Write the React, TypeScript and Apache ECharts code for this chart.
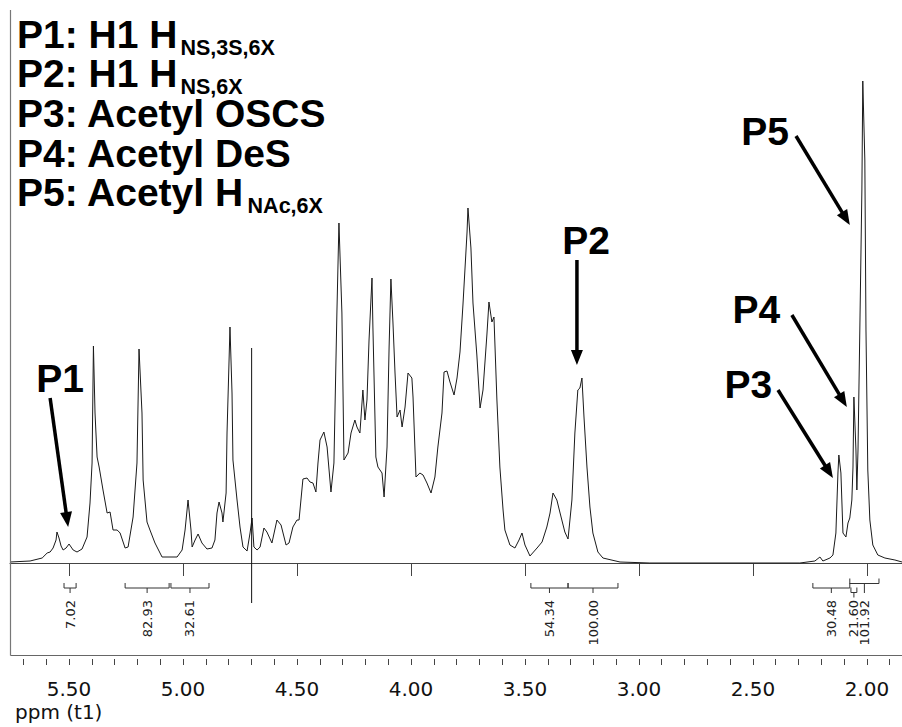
import React, { useEffect, useRef } from 'react';
import * as echarts from 'echarts';

// 1H NMR spectrum: [chemical shift (ppm), intensity (a.u.)]
const spectrumPoints: [number, number][] = [
  [5.759,1],[5.671,2],[5.618,5],[5.596,10],[5.583,11],[5.570,15],[5.557,23],[5.553,31],[5.544,25],[5.535,17],
  [5.526,13],[5.513,15],[5.500,19],[5.491,16],[5.482,13],[5.465,11],[5.443,14],[5.421,26],[5.408,60],[5.399,100],
  [5.393,217],[5.386,150],[5.377,106],[5.368,96],[5.351,73],[5.333,50],[5.320,51],[5.307,33],[5.289,33],[5.276,30],
  [5.254,15],[5.241,16],[5.219,46],[5.202,100],[5.193,214],[5.180,150],[5.175,83],[5.158,41],[5.145,33],[5.123,20],
  [5.092,6],[5.026,6],[5.004,13],[4.991,33],[4.978,63],[4.965,33],[4.960,16],[4.947,23],[4.934,29],[4.917,20],
  [4.895,14],[4.873,15],[4.860,23],[4.851,50],[4.842,61],[4.829,50],[4.825,41],[4.811,70],[4.807,130],[4.798,203],
  [4.794,236],[4.785,170],[4.781,103],[4.763,63],[4.750,36],[4.737,16],[4.719,12],[4.706,30],[4.697,45],[4.689,16],
  [4.675,13],[4.662,16],[4.645,35],[4.632,31],[4.610,20],[4.588,43],[4.570,38],[4.548,18],[4.535,20],[4.518,36],
  [4.500,43],[4.491,43],[4.474,84],[4.456,85],[4.443,81],[4.430,80],[4.417,71],[4.408,100],[4.399,123],[4.382,131],
  [4.368,116],[4.351,71],[4.338,100],[4.325,250],[4.316,340],[4.303,250],[4.294,103],[4.276,110],[4.263,130],[4.246,143],
  [4.237,136],[4.224,130],[4.211,173],[4.202,143],[4.193,163],[4.184,223],[4.171,285],[4.167,236],[4.154,106],[4.145,96],
  [4.127,90],[4.118,66],[4.105,116],[4.096,216],[4.088,284],[4.079,240],[4.070,190],[4.061,146],[4.048,153],[4.039,136],
  [4.026,156],[4.013,190],[3.996,185],[3.991,166],[3.978,86],[3.961,90],[3.947,88],[3.930,80],[3.912,70],[3.895,86],
  [3.882,116],[3.864,150],[3.855,191],[3.842,192],[3.829,181],[3.811,168],[3.798,185],[3.785,211],[3.772,258],[3.754,331],
  [3.750,355],[3.737,315],[3.728,260],[3.711,208],[3.697,155],[3.684,173],[3.667,228],[3.658,261],[3.645,241],[3.636,246],
  [3.623,163],[3.610,96],[3.596,53],[3.588,33],[3.566,18],[3.544,15],[3.526,23],[3.513,30],[3.500,18],[3.478,7],
  [3.447,15],[3.425,21],[3.404,36],[3.390,50],[3.377,70],[3.360,63],[3.346,50],[3.325,31],[3.311,24],[3.294,63],
  [3.281,130],[3.268,173],[3.259,175],[3.250,185],[3.241,146],[3.228,96],[3.215,56],[3.202,30],[3.180,11],[3.158,5],
  [3.083,1],[2.952,0],[2.732,0],[2.513,0],[2.294,0],[2.228,2],[2.206,6],[2.193,2],[2.162,5],[2.149,8],
  [2.136,30],[2.127,90],[2.123,108],[2.114,90],[2.105,30],[2.092,26],[2.083,40],[2.075,45],[2.066,63],[2.061,96],
  [2.057,166],[2.048,113],[2.044,73],[2.039,113],[2.031,233],[2.022,373],[2.018,482],[2.009,403],[2.004,233],[1.996,93],
  [1.987,43],[1.974,18],[1.952,8],[1.921,5],[1.877,3],[1.846,1],
];

// residual solvent (HDO) cursor
const solventMarkerPpm = 4.699;
const solventMarkerIntensity = [215, -40];

// axis ticks (ppm)
const majorTicks = [2.0, 2.5, 3.0, 3.5, 4.0, 4.5, 5.0, 5.5];
const minorTicks = [1.9,2.0,2.1,2.2,2.3,2.4,2.5,2.6,2.7,2.8,2.9,3.0,3.1,3.2,3.3,3.4,3.5,3.6,3.7,3.8,3.9,
  4.0,4.1,4.2,4.3,4.4,4.5,4.6,4.7,4.8,4.9,5.0,5.1,5.2,5.3,5.4,5.5,5.6,5.7];

// integrals
const integralStart = [5.522, 5.254, 5.053, 3.474, 3.311, 2.237, 2.070, 2.075];
const integralEnd = [5.469, 5.061, 4.886, 3.311, 3.092, 2.075, 2.044, 1.947];
const integralValues = ['7.02', '82.93', '32.61', '54.34', '100.00', '30.48', '21.60', '101.92'];
const integralTier = [0, 0, 0, 0, 0, 0, -1, 1];

// legend text
const legendMain = ['P1: H1 H', 'P2: H1 H', 'P3: Acetyl OSCS', 'P4: Acetyl DeS', 'P5: Acetyl H'];
const legendSub = ['NS,3S,6X', 'NS,6X', '', '', 'NAc,6X'];

// peak annotations (ppm, intensity)
const peakLabels = ['P1', 'P2', 'P3', 'P4', 'P5'];
const labelPpm = [5.539, 3.232, 2.520, 2.485, 2.447];
const labelIntensity = [185, 323, 179, 254, 432];
const arrowTailPpm = [5.583, 3.272, 2.390, 2.329, 2.311];
const arrowTailIntensity = [165, 303, 173, 248, 427];
const arrowTipPpm = [5.504, 3.272, 2.149, 2.088, 2.075];
const arrowTipIntensity = [36, 198, 85, 156, 338];

const BOLD_FONT = '"Liberation Sans", Arial, Helvetica, sans-serif';
const AXIS_FONT = '"DejaVu Sans", Verdana, sans-serif';
const MAIN_SIZE = 39;
const SUB_SIZE = 21.5;

function measure(text: string, font: string): number {
  const c = document.createElement('canvas').getContext('2d');
  if (!c) return text.length * 20;
  c.font = font;
  return c.measureText(text).width;
}

export default function App() {
  const ref = useRef<HTMLDivElement>(null);

  useEffect(() => {
    if (!ref.current) return;
    const chart = echarts.init(ref.current, null, { renderer: 'svg' });

    const legendY = [34.5, 73.5, 113.5, 153, 192.5];
    const legendX = 17;
    const graphics: any[] = [
      { type: 'line', shape: { x1: 10.5, y1: 10, x2: 10.5, y2: 655.5 }, style: { stroke: '#777', lineWidth: 1.2 }, z: 10 },
      { type: 'line', shape: { x1: 10.5, y1: 655.5, x2: 902, y2: 655.5 }, style: { stroke: '#666', lineWidth: 1.2 }, z: 10 },
      {
        type: 'text', x: 15, y: 712,
        style: {
          text: 'ppm (t1)', fontFamily: AXIS_FONT, fontSize: 20, lineHeight: 18, fill: '#111',
          align: 'left', verticalAlign: 'middle',
        },
        z: 10,
      },
    ];
    legendMain.forEach((t, i) => {
      graphics.push({
        type: 'text', x: legendX, y: legendY[i],
        style: {
          text: t, fontFamily: BOLD_FONT, fontWeight: 'bold', fontSize: MAIN_SIZE, lineHeight: 32, fill: '#000',
          align: 'left', verticalAlign: 'middle',
        },
        z: 10,
      });
      if (legendSub[i]) {
        const w = measure(t, `bold ${MAIN_SIZE}px ${BOLD_FONT}`);
        graphics.push({
          type: 'text', x: legendX + w + 3, y: legendY[i] + 13,
          style: {
            text: legendSub[i], fontFamily: BOLD_FONT, fontWeight: 'bold', fontSize: SUB_SIZE, lineHeight: 16,
            fill: '#000', align: 'left', verticalAlign: 'middle',
          },
          z: 10,
        });
      }
    });

    const xMin = 1.846;
    const xMax = 5.759;

    const option: any = {
      animation: false,
      grid: { left: 10, right: 0, top: 10, bottom: 68, containLabel: false },
      xAxis: [
        {
          type: 'value', min: xMin, max: xMax, inverse: true, position: 'bottom',
          axisLine: { show: true, lineStyle: { color: '#444', width: 1 } },
          axisTick: { show: true, length: 13, customValues: majorTicks, lineStyle: { color: '#444', width: 1 } },
          axisLabel: {
            show: true, customValues: majorTicks, formatter: (v: number) => v.toFixed(2),
            fontFamily: AXIS_FONT, fontSize: 20, lineHeight: 16, color: '#111', margin: 22,
          },
          splitLine: { show: false },
        },
        {
          type: 'value', min: xMin, max: xMax, inverse: true, position: 'bottom',
          axisLine: { show: false },
          axisTick: { show: true, length: 6, customValues: minorTicks, lineStyle: { color: '#444', width: 1 } },
          axisLabel: { show: false },
          splitLine: { show: false },
        },
      ],
      yAxis: { type: 'value', min: -96, max: 553, show: false },
      graphic: graphics,
      series: [
        {
          type: 'line', name: 'spectrum', data: spectrumPoints, showSymbol: false, symbol: 'none',
          lineStyle: { color: '#1a1a1a', width: 1 }, silent: true, z: 2,
        },
        {
          type: 'line', name: 'solvent', showSymbol: false, symbol: 'none',
          data: solventMarkerIntensity.map((v) => [solventMarkerPpm, v]),
          lineStyle: { color: '#111', width: 1 }, silent: true, z: 2,
        },
        {
          type: 'custom', name: 'integrals', silent: true, z: 3,
          data: integralValues.map((_, i) => [(integralStart[i] + integralEnd[i]) / 2, 0]),
          renderItem: (params: any, api: any) => {
            const i = params.dataIndex;
            const p1 = api.coord([integralStart[i], 0]);
            const p2 = api.coord([integralEnd[i], 0]);
            const y0 = p1[1];
            const by = y0 + 25 - integralTier[i] * 4.5;
            const mx = (p1[0] + p2[0]) / 2;
            return {
              type: 'group',
              children: [
                {
                  type: 'polyline',
                  shape: { points: [[p1[0], by - 5], [p1[0], by], [p2[0], by], [p2[0], by - 5]] },
                  style: { stroke: '#333', fill: 'none', lineWidth: 1 },
                },
                {
                  type: 'line',
                  shape: { x1: mx, y1: by, x2: mx, y2: Math.max(by + 5, y0 + 30) },
                  style: { stroke: '#333', lineWidth: 1 },
                },
                {
                  type: 'text', x: mx, y: y0 + 37, rotation: Math.PI / 2,
                  style: {
                    text: integralValues[i], fontFamily: AXIS_FONT, fontSize: 13, lineHeight: 11, fill: '#222',
                    align: 'right', verticalAlign: 'middle',
                  },
                },
              ],
            };
          },
        },
        {
          type: 'custom', name: 'annotations', silent: true, z: 5,
          data: peakLabels.map((_, i) => [arrowTipPpm[i], arrowTipIntensity[i]]),
          renderItem: (params: any, api: any) => {
            const i = params.dataIndex;
            const tip = api.coord([arrowTipPpm[i], arrowTipIntensity[i]]);
            const tail = api.coord([arrowTailPpm[i], arrowTailIntensity[i]]);
            const lab = api.coord([labelPpm[i], labelIntensity[i]]);
            const dx = tip[0] - tail[0];
            const dy = tip[1] - tail[1];
            const len = Math.hypot(dx, dy) || 1;
            const ux = dx / len;
            const uy = dy / len;
            const L = 15;
            const hw = 6;
            const bx = tip[0] - ux * L;
            const byy = tip[1] - uy * L;
            const px = -uy;
            const py = ux;
            return {
              type: 'group',
              children: [
                {
                  type: 'line',
                  shape: { x1: tail[0], y1: tail[1], x2: bx + ux * 2, y2: byy + uy * 2 },
                  style: { stroke: '#000', lineWidth: 3.5 },
                },
                {
                  type: 'polygon',
                  shape: { points: [[tip[0], tip[1]], [bx + px * hw, byy + py * hw], [bx - px * hw, byy - py * hw]] },
                  style: { fill: '#000', stroke: 'none' },
                },
                {
                  type: 'text', x: lab[0], y: lab[1],
                  style: {
                    text: peakLabels[i], fontFamily: BOLD_FONT, fontWeight: 'bold', fontSize: MAIN_SIZE,
                    fill: '#000', align: 'center', verticalAlign: 'middle',
                  },
                },
              ],
            };
          },
        },
      ],
    };

    chart.setOption(option);
    return () => chart.dispose();
  }, []);

  return (
    <div
      ref={ref}
      style={{ position: 'absolute', left: 0, top: 0, width: 902, height: 727, background: '#fff' }}
    />
  );
}
